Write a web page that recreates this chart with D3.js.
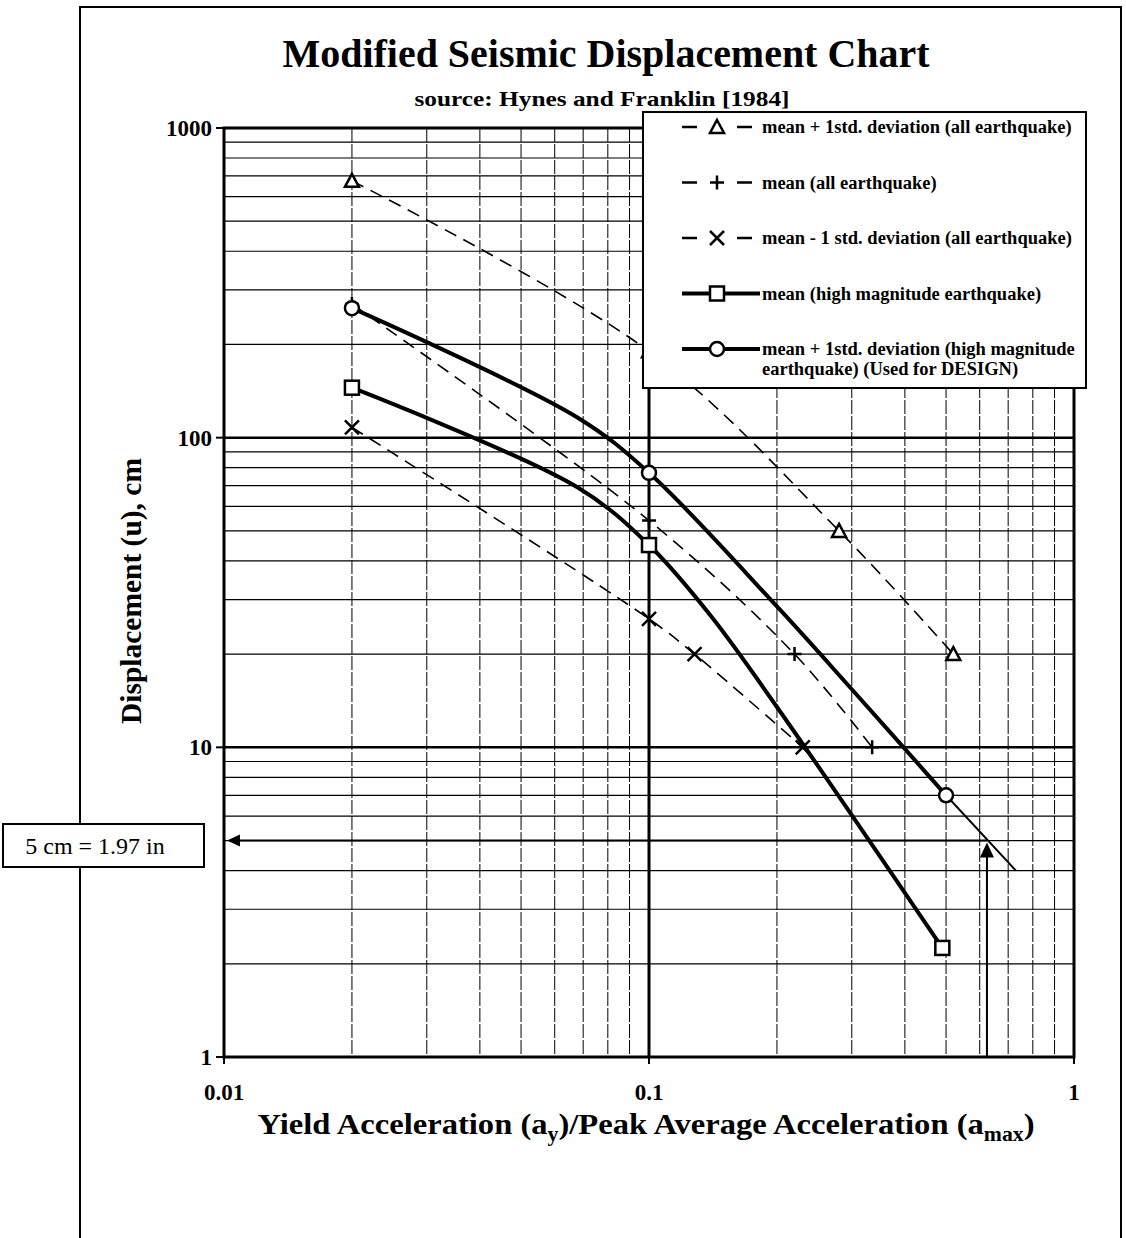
<!DOCTYPE html>
<html>
<head>
<meta charset="utf-8">
<script src="https://cdn.jsdelivr.net/npm/d3@7"></script>
<style>
  body { margin: 0; background: #fff; }
  svg { display: block; }
  text { font-family: "Liberation Serif", "Times New Roman", serif; fill: #000; }
</style>
</head>
<body>
<script>
// axis ticks
var xTicks = [0.01, 0.1, 1];
var xTickLabels = ['0.01', '0.1', '1'];
var yTicks = [1, 10, 100, 1000];
var yTickLabels = ['1', '10', '100', '1000'];

// mean + 1 std (all earthquake)
var plusStdAllX = [0.02, 0.1, 0.28, 0.52];
var plusStdAllY = [675, 190, 50, 20];
// mean (all earthquake)
var meanAllX = [0.02, 0.1, 0.22, 0.335];
var meanAllY = [270, 54, 20, 10];
// mean - 1 std (all earthquake)
var minusStdAllX = [0.02, 0.1, 0.128, 0.23];
var minusStdAllY = [108, 26, 20, 10];
// mean (high magnitude) - 0 = curve point only, no marker
var meanHighX = [0.02, 0.068, 0.1, 0.14, 0.2, 0.49];
var meanHighY = [145, 69, 45, 26.5, 13.5, 2.25];
var meanHighMark = [1, 0, 1, 0, 0, 1];
// mean + 1 std (high magnitude) used for design
var designX = [0.02, 0.068, 0.1, 0.2, 0.3, 0.5];
var designY = [262, 116, 77, 28.5, 15.4, 7];
var designMark = [1, 0, 1, 0, 0, 1];
// thin extension of the design curve
var designExtX = [0.5, 0.73];
var designExtY = [7, 4];
// design read-off
var readAccel = 0.624;
var readDisp = 5;

var legendNames = [
  'mean + 1std. deviation (all earthquake)',
  'mean (all earthquake)',
  'mean - 1 std. deviation (all earthquake)',
  'mean (high magnitude earthquake)',
  'mean + 1std. deviation (high magnitude'
];

var W = 1126, H = 1238;
var svg = d3.select('body').append('svg')
    .attr('width', W)
    .attr('height', H);

var x = d3.scaleLog().domain([0.01, 1]).range([224, 1074]);
var y = d3.scaleLog().domain([1, 1000]).range([1057, 128]);

// outer frame
svg.append('path')
  .attr('d', 'M80,1238 L80,7 L1121,7 L1121,1238')
  .attr('fill', 'none').attr('stroke', '#000').attr('stroke-width', 2);

// titles
svg.append('text')
  .attr('x', 606).attr('y', 67)
  .attr('text-anchor', 'middle')
  .attr('font-size', 40).attr('font-weight', 'bold')
  .attr('textLength', 647).attr('lengthAdjust', 'spacingAndGlyphs')
  .text('Modified Seismic Displacement Chart');
svg.append('text')
  .attr('x', 602).attr('y', 106)
  .attr('text-anchor', 'middle')
  .attr('font-size', 21).attr('font-weight', 'bold')
  .attr('textLength', 375).attr('lengthAdjust', 'spacingAndGlyphs')
  .text('source: Hynes and Franklin [1984]');

// grid
var grid = svg.append('g');
grid.selectAll('.vx')
  .data(x.ticks().filter(function(d) { return d > 0.0101 && d < 0.99; }))
  .enter().append('line')
    .attr('x1', function(d) { return x(d); })
    .attr('x2', function(d) { return x(d); })
    .attr('y1', y(1000)).attr('y2', y(1))
    .attr('stroke', '#000')
    .attr('stroke-width', function(d) { return Math.abs(d - 0.1) < 1e-9 ? 3 : 1; })
    .attr('stroke-dasharray', function(d) { return Math.abs(d - 0.1) < 1e-9 ? null : '14,2'; });
grid.selectAll('.hy')
  .data(y.ticks().filter(function(d) { return d > 1.01 && d < 999; }))
  .enter().append('line')
    .attr('y1', function(d) { return y(d); })
    .attr('y2', function(d) { return y(d); })
    .attr('x1', x(0.01)).attr('x2', x(1))
    .attr('stroke', '#000')
    .attr('stroke-width', function(d) { return (d === 10 || d === 100) ? 2.5 : 1.2; });

// plot frame
svg.append('rect')
  .attr('x', x(0.01)).attr('y', y(1000))
  .attr('width', x(1) - x(0.01)).attr('height', y(1) - y(1000))
  .attr('fill', 'none').attr('stroke', '#000').attr('stroke-width', 3);

// tick marks + labels
svg.selectAll('.ytk').data(yTicks).enter().append('line')
  .attr('x1', x(0.01) - 8).attr('x2', x(0.01))
  .attr('y1', function(d) { return y(d); }).attr('y2', function(d) { return y(d); })
  .attr('stroke', '#000').attr('stroke-width', 2);
svg.selectAll('.ylb').data(yTicks).enter().append('text')
  .attr('x', x(0.01) - 12)
  .attr('y', function(d) { return y(d); })
  .attr('dy', '0.35em')
  .attr('text-anchor', 'end')
  .attr('font-size', 23).attr('font-weight', 'bold')
  .text(function(d, i) { return yTickLabels[i]; });
svg.selectAll('.xtk').data(xTicks).enter().append('line')
  .attr('x1', function(d) { return x(d); }).attr('x2', function(d) { return x(d); })
  .attr('y1', y(1)).attr('y2', y(1) + 7)
  .attr('stroke', '#000').attr('stroke-width', 2);
svg.selectAll('.xlb').data(xTicks).enter().append('text')
  .attr('x', function(d) { return x(d); })
  .attr('y', 1100)
  .attr('text-anchor', 'middle')
  .attr('font-size', 23).attr('font-weight', 'bold')
  .text(function(d, i) { return xTickLabels[i]; });

// axis titles
svg.append('text')
  .attr('transform', 'translate(141,591) rotate(-90)')
  .attr('text-anchor', 'middle')
  .attr('font-size', 29).attr('font-weight', 'bold')
  .attr('textLength', 266).attr('lengthAdjust', 'spacingAndGlyphs')
  .text('Displacement (u), cm');
var xt = svg.append('text')
  .attr('x', 646).attr('y', 1134)
  .attr('text-anchor', 'middle')
  .attr('font-size', 30).attr('font-weight', 'bold')
  .attr('textLength', 777).attr('lengthAdjust', 'spacingAndGlyphs');
xt.append('tspan').text('Yield Acceleration (a');
xt.append('tspan').attr('font-size', 20).attr('dy', 7).text('y');
xt.append('tspan').attr('dy', -7).text(')/Peak Average Acceleration (a');
xt.append('tspan').attr('font-size', 20).attr('dy', 7).text('max');
xt.append('tspan').attr('dy', -7).text(')');

// markers
function marker(g, type, cx, cy) {
  var s = 7;
  if (type === 'tri') {
    g.append('path').attr('d', 'M' + cx + ',' + (cy - s) + 'L' + (cx + s) + ',' + (cy + s - 1) + 'L' + (cx - s) + ',' + (cy + s - 1) + 'Z')
      .attr('fill', '#fff').attr('stroke', '#000').attr('stroke-width', 2.5);
  } else if (type === 'plus') {
    g.append('path').attr('d', 'M' + (cx - s) + ',' + cy + 'H' + (cx + s) + 'M' + cx + ',' + (cy - s) + 'V' + (cy + s))
      .attr('stroke', '#000').attr('stroke-width', 2.5);
  } else if (type === 'x') {
    g.append('path').attr('d', 'M' + (cx - s) + ',' + (cy - s) + 'L' + (cx + s) + ',' + (cy + s) + 'M' + (cx + s) + ',' + (cy - s) + 'L' + (cx - s) + ',' + (cy + s))
      .attr('stroke', '#000').attr('stroke-width', 2.5);
  } else if (type === 'sq') {
    g.append('rect').attr('x', cx - s).attr('y', cy - s).attr('width', 2 * s).attr('height', 2 * s)
      .attr('fill', '#fff').attr('stroke', '#000').attr('stroke-width', 2.5);
  } else if (type === 'circ') {
    g.append('circle').attr('cx', cx).attr('cy', cy).attr('r', s)
      .attr('fill', '#fff').attr('stroke', '#000').attr('stroke-width', 2.5);
  }
}

var line = d3.line()
  .x(function(d) { return x(d[0]); })
  .y(function(d) { return y(d[1]); })
  .curve(d3.curveCatmullRom.alpha(0.5));

function series(xs, ys, marks, type, dashed) {
  var pts = xs.map(function(v, i) { return [v, ys[i]]; });
  var g = svg.append('g');
  g.append('path').datum(pts).attr('d', line)
    .attr('fill', 'none').attr('stroke', '#000')
    .attr('stroke-width', dashed ? 1.6 : 4)
    .attr('stroke-dasharray', dashed ? '13,8' : null);
  pts.forEach(function(p, i) {
    if (!marks || marks[i]) marker(g, type, x(p[0]), y(p[1]));
  });
}

// design extension + read-off arrows
svg.append('path')
  .datum(designExtX.map(function(v, i) { return [v, designExtY[i]]; }))
  .attr('d', d3.line().x(function(d) { return x(d[0]); }).y(function(d) { return y(d[1]); }))
  .attr('stroke', '#000').attr('stroke-width', 2).attr('fill', 'none');

var ax = x(readAccel), ay = y(readDisp), x0 = x(0.01);
svg.append('line').attr('x1', ax).attr('x2', x0 + 12).attr('y1', ay).attr('y2', ay)
  .attr('stroke', '#000').attr('stroke-width', 2);
svg.append('path').attr('d', 'M' + (x0 + 3) + ',' + ay + 'L' + (x0 + 16) + ',' + (ay - 6) + 'L' + (x0 + 16) + ',' + (ay + 6) + 'Z');
svg.append('line').attr('x1', ax).attr('x2', ax).attr('y1', y(1)).attr('y2', ay + 12)
  .attr('stroke', '#000').attr('stroke-width', 2);
svg.append('path').attr('d', 'M' + ax + ',' + (ay + 2) + 'L' + (ax - 7) + ',' + (ay + 17) + 'L' + (ax + 7) + ',' + (ay + 17) + 'Z');

series(plusStdAllX, plusStdAllY, null, 'tri', true);
series(meanAllX, meanAllY, null, 'plus', true);
series(minusStdAllX, minusStdAllY, null, 'x', true);
series(meanHighX, meanHighY, meanHighMark, 'sq', false);
series(designX, designY, designMark, 'circ', false);

// 5 cm box
svg.append('rect')
  .attr('x', 3).attr('y', 824).attr('width', 201).attr('height', 43)
  .attr('fill', '#fff').attr('stroke', '#000').attr('stroke-width', 2);
svg.append('text')
  .attr('x', 95).attr('y', 854)
  .attr('text-anchor', 'middle')
  .attr('font-size', 24)
  .text(readDisp + ' cm = 1.97 in');

// legend
var lg = svg.append('g');
lg.append('rect')
  .attr('x', 643).attr('y', 112).attr('width', 443).attr('height', 276)
  .attr('fill', '#fff').attr('stroke', '#000').attr('stroke-width', 2);
var legTypes = ['tri', 'plus', 'x', 'sq', 'circ'];
legendNames.forEach(function(name, i) {
  var ly = 127 + i * 55.5;
  if (i < 3) {
    lg.append('path').attr('d', 'M682,' + ly + 'H697M737,' + ly + 'H752')
      .attr('stroke', '#000').attr('stroke-width', 2.5);
  } else {
    lg.append('line').attr('x1', 682).attr('x2', 760).attr('y1', ly).attr('y2', ly)
      .attr('stroke', '#000').attr('stroke-width', 4);
  }
  marker(lg, legTypes[i], 717, ly);
  lg.append('text').attr('x', 762).attr('y', ly).attr('dy', '0.35em')
    .attr('font-size', 18.5).attr('font-weight', 'bold').text(name);
});
lg.append('text').attr('x', 762).attr('y', 127 + 4 * 55.5 + 20).attr('dy', '0.35em')
  .attr('font-size', 18.5).attr('font-weight', 'bold').text('earthquake) (Used for DESIGN)');
</script>
</body>
</html>
